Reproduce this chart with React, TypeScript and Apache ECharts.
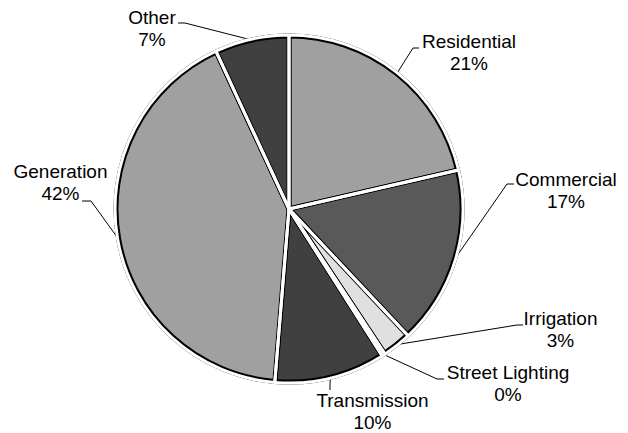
import React, { useEffect, useRef } from 'react';
import * as echarts from 'echarts';

// ---- data ----
const categories = ['Residential', 'Commercial', 'Irrigation', 'Street Lighting', 'Transmission', 'Generation', 'Other'];
const shares = [21.4, 16.6, 2.7, 0.3, 10.3, 41.8, 6.9];

// ---- styling / layout ----
const sliceColors = ['#a0a0a0', '#595959', '#e0e0e0', '#7f7f7f', '#404040', '#a0a0a0', '#404040'];
// label block centres (page px)
const labelCenters: number[][] = [
  [469, 52.5], [566, 190.7], [560.5, 329.8], [508, 383.5], [372.5, 411.3], [60.5, 182.7], [152, 28.5],
];
// leader line elbow and end points (page px)
const leaderBends: number[][][] = [
  [[413, 48], [419, 48]],
  [[507, 184], [514, 184]],
  [[517, 325], [523, 325]],
  [[437, 379], [444, 379]],
  [[330, 384], [330, 390]],
  [[91, 201], [82, 201]],
  [[185, 23], [178, 23]],
];

const CX = 289;
const CY = 209;
const R = 173;

export default function App() {
  const ref = useRef<HTMLDivElement>(null);

  useEffect(() => {
    if (!ref.current) return;
    const chart = echarts.init(ref.current, null, { renderer: 'svg' });
    const total = shares.reduce((a, b) => a + b, 0);

    const fallbackAnchor = (i: number) => {
      let cum = 0;
      for (let k = 0; k < i; k++) cum += shares[k];
      const mid = ((cum + shares[i] / 2) / total) * Math.PI * 2;
      return [CX + R * Math.sin(mid), CY - R * Math.cos(mid)];
    };

    const dataMain = categories.map((name, i) => ({
      name,
      value: shares[i],
      itemStyle: { color: sliceColors[i] },
    }));
    const dataGap = categories.map((name, i) => ({
      name,
      value: shares[i],
      itemStyle: { color: 'rgba(0,0,0,0)' },
    }));

    chart.setOption({
      animation: false,
      backgroundColor: '#ffffff',
      series: [
        {
          type: 'pie',
          center: [CX, CY],
          radius: [0, R],
          startAngle: 90,
          clockwise: true,
          avoidLabelOverlap: false,
          minAngle: 0,
          data: dataMain,
          itemStyle: { borderColor: '#000000', borderWidth: 5, borderJoin: 'round' },
          label: {
            show: true,
            position: 'outside',
            formatter: (p: any) => `${p.name}\n${Math.round(p.percent)}%`,
            color: '#000000',
            fontFamily: '"Liberation Sans", Arial, sans-serif',
            fontSize: 19,
            lineHeight: 22,
          },
          labelLine: {
            show: true,
            smooth: false,
            lineStyle: { color: '#000000', width: 1 },
          },
          labelLayout: (params: any) => {
            if (params.seriesIndex !== 0) return {};
            const i = params.dataIndex;
            const pts = params.labelLinePoints;
            const start = pts && pts[0] ? pts[0] : fallbackAnchor(i);
            return {
              x: labelCenters[i][0],
              y: labelCenters[i][1],
              align: 'center',
              verticalAlign: 'middle',
              labelLinePoints: [start, leaderBends[i][0], leaderBends[i][1]],
            };
          },
          emphasis: { disabled: true },
        },
        {
          type: 'pie',
          center: [CX, CY],
          radius: [0, R + 1],
          startAngle: 90,
          clockwise: true,
          minAngle: 0,
          silent: true,
          data: dataGap,
          itemStyle: { borderColor: '#ffffff', borderWidth: 3, borderJoin: 'round' },
          label: { show: false },
          labelLine: { show: false },
          emphasis: { disabled: true },
        },
      ],
    });

    return () => chart.dispose();
  }, []);

  return (
    <div
      ref={ref}
      style={{ position: 'absolute', left: 0, top: 0, width: 628, height: 433 }}
    />
  );
}
